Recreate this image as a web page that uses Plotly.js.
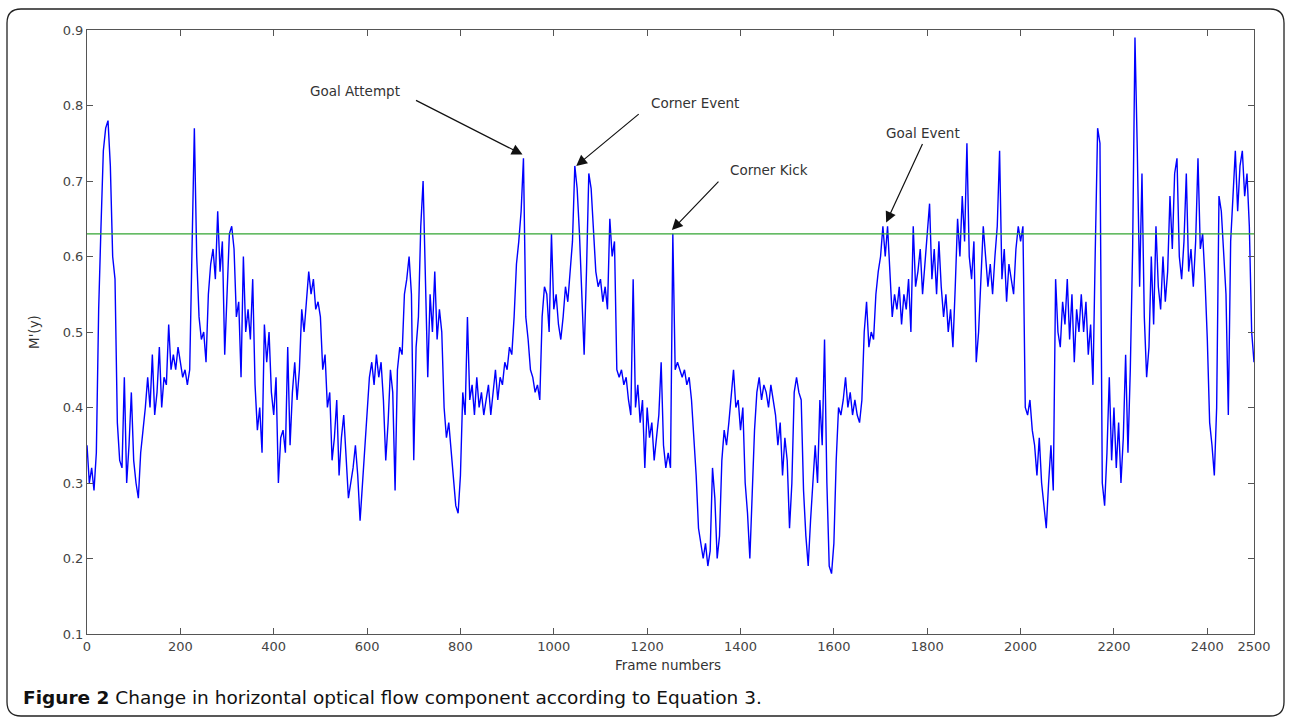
<!DOCTYPE html>
<html>
<head>
<meta charset="utf-8">
<script src="https://cdn.plot.ly/plotly-3.0.1.min.js"></script>
<style>
  html, body { margin: 0; padding: 0; background: #fff; }
  #chart { width: 1290px; height: 717px; }
</style>
</head>
<body>
<div id="chart"></div>
<script>
// ---- data ----
const frameStep = 5; // one value every 5 frames
const flowValues = [
  0.35, 0.30, 0.32, 0.29, 0.34, 0.53, 0.64, 0.74, 0.77, 0.78,
  0.72, 0.60, 0.57, 0.38, 0.33, 0.32, 0.44, 0.30, 0.35, 0.42,
  0.33, 0.30, 0.28, 0.34, 0.37, 0.40, 0.44, 0.40, 0.47, 0.39,
  0.42, 0.48, 0.40, 0.44, 0.43, 0.51, 0.45, 0.47, 0.45, 0.48,
  0.46, 0.44, 0.45, 0.43, 0.45, 0.64, 0.77, 0.60, 0.52, 0.49,
  0.50, 0.46, 0.55, 0.59, 0.61, 0.57, 0.66, 0.58, 0.62, 0.47,
  0.56, 0.63, 0.64, 0.61, 0.52, 0.54, 0.44, 0.60, 0.50, 0.53,
  0.49, 0.57, 0.43, 0.37, 0.40, 0.34, 0.51, 0.46, 0.50, 0.42,
  0.39, 0.44, 0.30, 0.36, 0.37, 0.34, 0.48, 0.35, 0.42, 0.46,
  0.41, 0.45, 0.53, 0.50, 0.54, 0.58, 0.55, 0.57, 0.53, 0.54,
  0.52, 0.45, 0.47, 0.40, 0.42, 0.33, 0.36, 0.41, 0.31, 0.36,
  0.39, 0.33, 0.28, 0.30, 0.32, 0.35, 0.31, 0.25, 0.30, 0.34,
  0.40, 0.44, 0.46, 0.43, 0.47, 0.44, 0.46, 0.41, 0.33, 0.38,
  0.45, 0.42, 0.29, 0.45, 0.48, 0.47, 0.55, 0.57, 0.60, 0.55,
  0.33, 0.48, 0.52, 0.64, 0.70, 0.57, 0.44, 0.55, 0.50, 0.58,
  0.49, 0.53, 0.50, 0.40, 0.36, 0.38, 0.34, 0.30, 0.27, 0.26,
  0.31, 0.42, 0.39, 0.52, 0.41, 0.43, 0.39, 0.44, 0.40, 0.42,
  0.39, 0.41, 0.43, 0.39, 0.42, 0.45, 0.41, 0.44, 0.43, 0.46,
  0.45, 0.48, 0.47, 0.52, 0.59, 0.62, 0.66, 0.73, 0.52, 0.49,
  0.45, 0.44, 0.42, 0.43, 0.41, 0.52, 0.56, 0.55, 0.50, 0.63,
  0.53, 0.55, 0.51, 0.49, 0.52, 0.56, 0.54, 0.58, 0.62, 0.72,
  0.69, 0.63, 0.55, 0.47, 0.58, 0.71, 0.69, 0.63, 0.58, 0.56,
  0.57, 0.54, 0.56, 0.53, 0.65, 0.60, 0.62, 0.45, 0.44, 0.45,
  0.43, 0.44, 0.41, 0.39, 0.57, 0.40, 0.43, 0.38, 0.41, 0.32,
  0.40, 0.36, 0.38, 0.33, 0.36, 0.39, 0.46, 0.35, 0.32, 0.34,
  0.32, 0.63, 0.45, 0.46, 0.45, 0.44, 0.45, 0.43, 0.44, 0.41,
  0.36, 0.31, 0.24, 0.22, 0.20, 0.22, 0.19, 0.21, 0.32, 0.28,
  0.20, 0.23, 0.33, 0.37, 0.35, 0.38, 0.42, 0.45, 0.40, 0.41,
  0.37, 0.40, 0.30, 0.26, 0.20, 0.29, 0.37, 0.42, 0.44, 0.41,
  0.43, 0.42, 0.40, 0.43, 0.41, 0.39, 0.35, 0.38, 0.31, 0.36,
  0.33, 0.24, 0.30, 0.42, 0.44, 0.42, 0.41, 0.29, 0.23, 0.19,
  0.25, 0.30, 0.35, 0.30, 0.41, 0.35, 0.49, 0.30, 0.19, 0.18,
  0.22, 0.33, 0.40, 0.39, 0.41, 0.44, 0.40, 0.42, 0.39, 0.41,
  0.39, 0.38, 0.41, 0.50, 0.54, 0.48, 0.50, 0.49, 0.55, 0.58,
  0.60, 0.64, 0.60, 0.64, 0.58, 0.52, 0.55, 0.53, 0.56, 0.51,
  0.55, 0.53, 0.57, 0.50, 0.64, 0.56, 0.58, 0.61, 0.55, 0.59,
  0.63, 0.67, 0.57, 0.61, 0.55, 0.62, 0.56, 0.52, 0.55, 0.50,
  0.53, 0.48, 0.56, 0.65, 0.60, 0.68, 0.62, 0.75, 0.60, 0.57,
  0.62, 0.46, 0.50, 0.58, 0.64, 0.60, 0.56, 0.59, 0.55, 0.60,
  0.64, 0.74, 0.57, 0.61, 0.54, 0.59, 0.57, 0.55, 0.61, 0.64,
  0.62, 0.64, 0.40, 0.39, 0.41, 0.37, 0.35, 0.31, 0.36, 0.30,
  0.27, 0.24, 0.30, 0.35, 0.29, 0.57, 0.50, 0.48, 0.54, 0.51,
  0.57, 0.49, 0.55, 0.46, 0.53, 0.50, 0.55, 0.50, 0.54, 0.47,
  0.51, 0.43, 0.61, 0.77, 0.75, 0.30, 0.27, 0.34, 0.44, 0.33,
  0.40, 0.32, 0.38, 0.30, 0.36, 0.47, 0.34, 0.45, 0.61, 0.89,
  0.74, 0.56, 0.71, 0.52, 0.44, 0.48, 0.60, 0.51, 0.64, 0.56,
  0.53, 0.60, 0.54, 0.58, 0.68, 0.61, 0.71, 0.73, 0.60, 0.57,
  0.62, 0.71, 0.58, 0.61, 0.56, 0.62, 0.73, 0.61, 0.63, 0.57,
  0.49, 0.38, 0.35, 0.31, 0.40, 0.68, 0.66, 0.61, 0.55, 0.39,
  0.62, 0.68, 0.74, 0.66, 0.72, 0.74, 0.68, 0.71, 0.64, 0.50,
  0.46
];
const frames = flowValues.map((_, i) => i * frameStep);

const threshold = 0.63;
const thresholdFrames = [0, 2500];

const xTickVals = [0, 200, 400, 600, 800, 1000, 1200, 1400, 1600, 1800, 2000, 2200, 2400, 2500];
const xTickText = ['0', '200', '400', '600', '800', '1000', '1200', '1400', '1600', '1800', '2000', '2200', '2400', '2500'];
const yTickVals = [0.1, 0.2, 0.3, 0.4, 0.5, 0.6, 0.7, 0.8, 0.9];
const yTickText = ['0.1', '0.2', '0.3', '0.4', '0.5', '0.6', '0.7', '0.8', '0.9'];

const eventLabels = ['Goal Attempt', 'Corner Event', 'Corner Kick', 'Goal Event'];
const eventFrames = [933, 1048, 1253, 1712];
const eventValues = [0.735, 0.72, 0.635, 0.645];

const xTitle = 'Frame numbers';
const yTitle = "M'(y)";
const captionBold = 'Figure 2';
const captionText = ' Change in horizontal optical flow component according to Equation 3.';

// ---- layout geometry ----
const W = 1290, H = 717;
const M = { l: 87, r: 36, t: 30, b: 83 };
const PW = W - M.l - M.r, PH = H - M.t - M.b;
const pxX = px => (px - M.l) / PW;
const pxY = py => (H - M.b - py) / PH;

// arrow tail offsets (pixels, relative to tip) and label centres (pixels)
const arrowOffsets = [[-108, -55], [64, -53], [48, -50], [37, -80]];
const labelCentres = [[355, 91], [695, 103], [769, 170], [923, 133]];

const labelFont = { family: 'DejaVu Sans, Verdana, sans-serif', size: 13.5, color: '#333' };
const tickFont = { family: 'DejaVu Sans, Verdana, sans-serif', size: 13, color: '#444' };

const traces = [
  {
    x: frames, y: flowValues, type: 'scatter', mode: 'lines',
    line: { color: 'rgb(0,0,255)', width: 1.4 }, hoverinfo: 'x+y'
  },
  {
    x: thresholdFrames, y: [threshold, threshold], type: 'scatter', mode: 'lines',
    line: { color: 'rgb(50,165,50)', width: 1.2 }, hoverinfo: 'y'
  }
];

const annotations = [];
eventLabels.forEach((lab, i) => {
  annotations.push({
    x: eventFrames[i], y: eventValues[i], xref: 'x', yref: 'y',
    text: '', showarrow: true, arrowhead: 2, arrowsize: 1.8, arrowwidth: 1.2,
    arrowcolor: '#111', ax: arrowOffsets[i][0], ay: arrowOffsets[i][1]
  });
  annotations.push({
    x: pxX(labelCentres[i][0]), y: pxY(labelCentres[i][1]), xref: 'paper', yref: 'paper',
    text: lab, showarrow: false, xanchor: 'center', yanchor: 'middle', font: labelFont
  });
});
// axis titles placed where the reference has them
annotations.push({
  x: pxX(668), y: pxY(665), xref: 'paper', yref: 'paper', xanchor: 'center', yanchor: 'middle',
  showarrow: false, text: xTitle, font: labelFont
});
annotations.push({
  x: pxX(34), y: pxY(332), xref: 'paper', yref: 'paper', xanchor: 'center', yanchor: 'middle',
  showarrow: false, text: yTitle, textangle: -90, font: labelFont
});
annotations.push({
  x: pxX(21), y: pxY(697), xref: 'paper', yref: 'paper', xanchor: 'left', yanchor: 'middle',
  showarrow: false, text: '<b>' + captionBold + '</b>' + captionText,
  font: { family: 'DejaVu Sans, sans-serif', size: 18.5, color: '#111' }
});

// rounded outer frame in pixels -> paper coords
function roundedFramePath(x0, y0, x1, y1, r) {
  const P = (x, y) => pxX(x).toFixed(5) + ',' + pxY(y).toFixed(5);
  return 'M' + P(x0 + r, y0) + ' L' + P(x1 - r, y0) + ' Q' + P(x1, y0) + ' ' + P(x1, y0 + r) +
    ' L' + P(x1, y1 - r) + ' Q' + P(x1, y1) + ' ' + P(x1 - r, y1) +
    ' L' + P(x0 + r, y1) + ' Q' + P(x0, y1) + ' ' + P(x0, y1 - r) +
    ' L' + P(x0, y0 + r) + ' Q' + P(x0, y0) + ' ' + P(x0 + r, y0) + ' Z';
}

const axisCommon = {
  showgrid: false, zeroline: false, showline: true, linecolor: '#555', linewidth: 1,
  mirror: 'ticks', ticks: 'inside', ticklen: 6, tickcolor: '#555', tickwidth: 1,
  tickmode: 'array', fixedrange: true, tickfont: tickFont
};

const layout = {
  width: W, height: H,
  margin: M,
  paper_bgcolor: '#fff', plot_bgcolor: '#fff',
  showlegend: false,
  xaxis: Object.assign({}, axisCommon, {
    range: [0, 2500], tickvals: xTickVals, ticktext: xTickText
  }),
  yaxis: Object.assign({}, axisCommon, {
    range: [0.1, 0.9], tickvals: yTickVals, ticktext: yTickText
  }),
  annotations: annotations,
  shapes: [{
    type: 'path', xref: 'paper', yref: 'paper', layer: 'above',
    path: roundedFramePath(7, 9, 1284, 716, 14),
    line: { color: '#222', width: 1.3 }
  }]
};

Plotly.newPlot('chart', traces, layout, { displayModeBar: false, staticPlot: true });
</script>
</body>
</html>
